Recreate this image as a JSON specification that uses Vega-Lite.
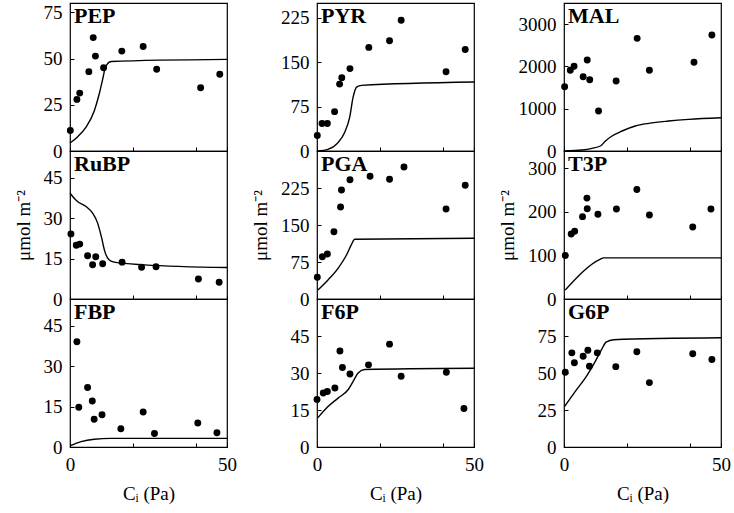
{
"$schema": "https://vega.github.io/schema/vega-lite/v6.json",
"padding": {"left": 13, "top": 2, "right": 5, "bottom": 5},
"config": {
  "font": "Liberation Serif",
  "view": {"stroke": "black", "strokeWidth": 1.2},
  "axis": {"labelFont": "Liberation Serif", "labelFontSize": 19, "labelColor": "black", "titleFont": "Liberation Serif", "titleFontSize": 19, "titleFontWeight": "normal", "titleColor": "black", "domain": false, "grid": false, "tickColor": "black", "tickSize": -4, "labelPadding": 12, "labelFlush": false, "titlePadding": 10},
  "line": {"color": "black", "strokeWidth": 1.4, "interpolate": "monotone"},
  "circle": {"color": "black", "opacity": 1, "size": 48},
  "text": {"font": "Liberation Serif", "fontWeight": "bold", "fontSize": 22, "align": "left", "baseline": "top", "dx": 4, "dy": 3, "color": "black"}
},
"datasets": {
  "obs": [
    {"m":"PEP","x":0.1,"y":11.1},{"m":"PEP","x":2.2,"y":27.9},{"m":"PEP","x":3.1,"y":31.3},{"m":"PEP","x":6.0,"y":42.9},{"m":"PEP","x":7.4,"y":61.3},{"m":"PEP","x":8.1,"y":51.3},{"m":"PEP","x":10.7,"y":45.0},{"m":"PEP","x":16.5,"y":54.0},{"m":"PEP","x":23.3,"y":56.5},{"m":"PEP","x":27.6,"y":44.2},{"m":"PEP","x":41.6,"y":34.2},{"m":"PEP","x":47.7,"y":41.5},
    {"m":"PYR","x":0.1,"y":26.1},{"m":"PYR","x":1.6,"y":46.6},{"m":"PYR","x":3.3,"y":46.6},{"m":"PYR","x":5.6,"y":66.5},{"m":"PYR","x":7.2,"y":113},{"m":"PYR","x":7.9,"y":123.9},{"m":"PYR","x":10.5,"y":139.2},{"m":"PYR","x":16.5,"y":175},{"m":"PYR","x":23.1,"y":186.3},{"m":"PYR","x":26.8,"y":221},{"m":"PYR","x":41.1,"y":134},{"m":"PYR","x":47.2,"y":171.6},
    {"m":"MAL","x":0.2,"y":1520},{"m":"MAL","x":2.0,"y":1908},{"m":"MAL","x":3.2,"y":2005},{"m":"MAL","x":6.1,"y":1757},{"m":"MAL","x":7.4,"y":2151},{"m":"MAL","x":8.2,"y":1686},{"m":"MAL","x":11.0,"y":946},{"m":"MAL","x":16.6,"y":1655},{"m":"MAL","x":23.3,"y":2664},{"m":"MAL","x":27.2,"y":1908},{"m":"MAL","x":41.4,"y":2097},{"m":"MAL","x":47.1,"y":2742},
    {"m":"RuBP","x":0.3,"y":24.2},{"m":"RuBP","x":2.0,"y":20.0},{"m":"RuBP","x":3.1,"y":20.4},{"m":"RuBP","x":5.6,"y":16.1},{"m":"RuBP","x":7.2,"y":12.7},{"m":"RuBP","x":8.2,"y":15.7},{"m":"RuBP","x":10.4,"y":13.1},{"m":"RuBP","x":16.6,"y":13.7},{"m":"RuBP","x":22.8,"y":11.8},{"m":"RuBP","x":27.4,"y":12.0},{"m":"RuBP","x":40.9,"y":7.4},{"m":"RuBP","x":47.5,"y":6.2},
    {"m":"PGA","x":0.1,"y":44},{"m":"PGA","x":1.7,"y":85.8},{"m":"PGA","x":3.3,"y":91.2},{"m":"PGA","x":5.4,"y":136.4},{"m":"PGA","x":7.5,"y":186.5},{"m":"PGA","x":7.8,"y":221},{"m":"PGA","x":10.5,"y":241.9},{"m":"PGA","x":16.9,"y":248.7},{"m":"PGA","x":23.1,"y":242.6},{"m":"PGA","x":27.7,"y":267.6},{"m":"PGA","x":41.1,"y":182.4},{"m":"PGA","x":47.2,"y":230.5},
    {"m":"T3P","x":0.4,"y":100},{"m":"T3P","x":2.3,"y":149.4},{"m":"T3P","x":3.4,"y":155.6},{"m":"T3P","x":5.9,"y":189.2},{"m":"T3P","x":7.4,"y":207.5},{"m":"T3P","x":7.3,"y":231.8},{"m":"T3P","x":10.8,"y":194.5},{"m":"T3P","x":16.7,"y":206.6},{"m":"T3P","x":23.2,"y":251.7},{"m":"T3P","x":27.2,"y":192.9},{"m":"T3P","x":41.0,"y":165.5},{"m":"T3P","x":46.8,"y":206.6},
    {"m":"FBP","x":2.2,"y":39.1},{"m":"FBP","x":2.8,"y":14.8},{"m":"FBP","x":5.6,"y":22.1},{"m":"FBP","x":7.1,"y":17.1},{"m":"FBP","x":7.7,"y":10.3},{"m":"FBP","x":10.2,"y":12.0},{"m":"FBP","x":16.2,"y":6.8},{"m":"FBP","x":23.3,"y":13.0},{"m":"FBP","x":26.9,"y":5.0},{"m":"FBP","x":40.7,"y":8.9},{"m":"FBP","x":46.8,"y":5.3},
    {"m":"F6P","x":0.0,"y":19.3},{"m":"F6P","x":2.0,"y":21.9},{"m":"F6P","x":3.3,"y":22.5},{"m":"F6P","x":5.7,"y":23.9},{"m":"F6P","x":7.3,"y":38.9},{"m":"F6P","x":8.1,"y":32.2},{"m":"F6P","x":10.5,"y":29.6},{"m":"F6P","x":16.4,"y":33.3},{"m":"F6P","x":23.1,"y":41.7},{"m":"F6P","x":26.8,"y":28.7},{"m":"F6P","x":41.2,"y":30.3},{"m":"F6P","x":46.8,"y":15.6},
    {"m":"G6P","x":0.4,"y":50.5},{"m":"G6P","x":2.5,"y":63.6},{"m":"G6P","x":3.3,"y":56.9},{"m":"G6P","x":6.1,"y":61.3},{"m":"G6P","x":7.6,"y":65.4},{"m":"G6P","x":8.1,"y":54.6},{"m":"G6P","x":10.6,"y":63.6},{"m":"G6P","x":16.5,"y":54.3},{"m":"G6P","x":23.2,"y":64.3},{"m":"G6P","x":27.2,"y":43.5},{"m":"G6P","x":41.0,"y":63.0},{"m":"G6P","x":47.1,"y":59.1}
  ],
  "model": [
    {"m":"PEP","x":0,"y":4.3},{"m":"PEP","x":2.4,"y":7.6},{"m":"PEP","x":5.1,"y":12.9},{"m":"PEP","x":7.75,"y":21.8},{"m":"PEP","x":9.3,"y":30.8},{"m":"PEP","x":10.4,"y":38.8},{"m":"PEP","x":11.1,"y":44.1},{"m":"PEP","x":12.0,"y":47.3},{"m":"PEP","x":13.1,"y":48.4},{"m":"PEP","x":50,"y":49.5},
    {"m":"PYR","x":0.3,"y":0},{"m":"PYR","x":3.5,"y":2.8},{"m":"PYR","x":6.7,"y":14.2},{"m":"PYR","x":8.8,"y":31.2},{"m":"PYR","x":10.4,"y":56.8},{"m":"PYR","x":11.5,"y":90.9},{"m":"PYR","x":12.6,"y":108},{"m":"PYR","x":14.2,"y":110.8},{"m":"PYR","x":50,"y":116.5},
    {"m":"MAL","x":0.2,"y":0},{"m":"MAL","x":5.7,"y":24},{"m":"MAL","x":8.9,"y":63},{"m":"MAL","x":11.6,"y":118},{"m":"MAL","x":13.2,"y":236},{"m":"MAL","x":15.3,"y":355},{"m":"MAL","x":18.5,"y":473},{"m":"MAL","x":22.7,"y":591},{"m":"MAL","x":27.0,"y":654},{"m":"MAL","x":33.3,"y":709},{"m":"MAL","x":39.7,"y":749},{"m":"MAL","x":50,"y":788},
    {"m":"RuBP","x":0,"y":39.3},{"m":"RuBP","x":2.4,"y":36.2},{"m":"RuBP","x":5.1,"y":34.4},{"m":"RuBP","x":7.2,"y":31.9},{"m":"RuBP","x":8.8,"y":28.2},{"m":"RuBP","x":10.1,"y":22.6},{"m":"RuBP","x":11.1,"y":17.6},{"m":"RuBP","x":12.5,"y":14.5},{"m":"RuBP","x":14.1,"y":13.7},{"m":"RuBP","x":23.7,"y":12.7},{"m":"RuBP","x":50,"y":11.7},
    {"m":"PGA","x":0.3,"y":18.2},{"m":"PGA","x":3.5,"y":38.5},{"m":"PGA","x":6.7,"y":62.2},{"m":"PGA","x":9.4,"y":89.2},{"m":"PGA","x":11.0,"y":110.9},{"m":"PGA","x":12.0,"y":121},{"m":"PGA","x":50,"y":123},
    {"m":"T3P","x":0.4,"y":20.6},{"m":"T3P","x":11.6,"y":91.5},{"m":"T3P","x":12.6,"y":94.5},{"m":"T3P","x":50,"y":94.5},
    {"m":"FBP","x":0.1,"y":0.5},{"m":"FBP","x":3.5,"y":2.0},{"m":"FBP","x":7.75,"y":2.9},{"m":"FBP","x":13.1,"y":3.2},{"m":"FBP","x":50,"y":3.2},
    {"m":"F6P","x":0.3,"y":11.9},{"m":"F6P","x":3.5,"y":16.4},{"m":"F6P","x":6.7,"y":19.8},{"m":"F6P","x":9.9,"y":23.2},{"m":"F6P","x":11.5,"y":26.6},{"m":"F6P","x":13.1,"y":30.0},{"m":"F6P","x":15.2,"y":31.4},{"m":"F6P","x":50,"y":31.9},
    {"m":"G6P","x":0.2,"y":27.4},{"m":"G6P","x":3.6,"y":37.6},{"m":"G6P","x":6.8,"y":46.7},{"m":"G6P","x":9.7,"y":56.9},{"m":"G6P","x":12.0,"y":65.9},{"m":"G6P","x":13.4,"y":70.9},{"m":"G6P","x":15.8,"y":72.5},{"m":"G6P","x":50,"y":73.8}
  ]
},
"spacing": 12,
"hconcat": [
  {"spacing": 0, "bounds": "flush", "vconcat": [
    {"width": 157, "height": 148, "layer": [
      {"data": {"name": "model"}, "transform": [{"filter": "datum.m === 'PEP'"}], "mark": "line",
       "encoding": {"x": {"field": "x", "type": "quantitative", "scale": {"domain": [0, 50], "nice": false}, "axis": {"values": [0, 20, 40, 50], "labels": false, "title": null}},
                    "y": {"field": "y", "type": "quantitative", "scale": {"domain": [0, 80], "nice": false}, "axis": {"values": [0, 25, 50, 75], "title": null}}}},
      {"data": {"name": "obs"}, "transform": [{"filter": "datum.m === 'PEP'"}], "mark": "circle",
       "encoding": {"x": {"field": "x", "type": "quantitative"}, "y": {"field": "y", "type": "quantitative"}}},
      {"data": {"values": [{"label": "PEP"}]}, "mark": "text", "encoding": {"x": {"datum": 0}, "y": {"datum": 80}, "text": {"field": "label"}}}
    ]},
    {"width": 157, "height": 148, "layer": [
      {"data": {"name": "model"}, "transform": [{"filter": "datum.m === 'RuBP'"}], "mark": "line",
       "encoding": {"x": {"field": "x", "type": "quantitative", "scale": {"domain": [0, 50], "nice": false}, "axis": {"values": [0, 20, 40, 50], "labels": false, "title": null}},
                    "y": {"field": "y", "type": "quantitative", "scale": {"domain": [0, 55], "nice": false}, "axis": {"values": [0, 15, 30, 45], "title": "μmol m⁻²"}}}},
      {"data": {"name": "obs"}, "transform": [{"filter": "datum.m === 'RuBP'"}], "mark": "circle",
       "encoding": {"x": {"field": "x", "type": "quantitative"}, "y": {"field": "y", "type": "quantitative"}}},
      {"data": {"values": [{"label": "RuBP"}]}, "mark": "text", "encoding": {"x": {"datum": 0}, "y": {"datum": 55}, "text": {"field": "label"}}}
    ]},
    {"width": 157, "height": 148, "layer": [
      {"data": {"name": "model"}, "transform": [{"filter": "datum.m === 'FBP'"}], "mark": "line",
       "encoding": {"x": {"field": "x", "type": "quantitative", "scale": {"domain": [0, 50], "nice": false}, "axis": {"values": [0, 20, 40, 50], "labelExpr": "datum.value == 0 || datum.value == 50 ? datum.label : ''", "title": "Cᵢ (Pa)"}},
                    "y": {"field": "y", "type": "quantitative", "scale": {"domain": [0, 55], "nice": false}, "axis": {"values": [0, 15, 30, 45], "title": null}}}},
      {"data": {"name": "obs"}, "transform": [{"filter": "datum.m === 'FBP'"}], "mark": "circle",
       "encoding": {"x": {"field": "x", "type": "quantitative"}, "y": {"field": "y", "type": "quantitative"}}},
      {"data": {"values": [{"label": "FBP"}]}, "mark": "text", "encoding": {"x": {"datum": 0}, "y": {"datum": 55}, "text": {"field": "label"}}}
    ]}
  ]},
  {"spacing": 0, "bounds": "flush", "vconcat": [
    {"width": 157, "height": 148, "layer": [
      {"data": {"name": "model"}, "transform": [{"filter": "datum.m === 'PYR'"}], "mark": "line",
       "encoding": {"x": {"field": "x", "type": "quantitative", "scale": {"domain": [0, 50], "nice": false}, "axis": {"values": [0, 20, 40, 50], "labels": false, "title": null}},
                    "y": {"field": "y", "type": "quantitative", "scale": {"domain": [0, 250], "nice": false}, "axis": {"values": [0, 75, 150, 225], "title": null}}}},
      {"data": {"name": "obs"}, "transform": [{"filter": "datum.m === 'PYR'"}], "mark": "circle",
       "encoding": {"x": {"field": "x", "type": "quantitative"}, "y": {"field": "y", "type": "quantitative"}}},
      {"data": {"values": [{"label": "PYR"}]}, "mark": "text", "encoding": {"x": {"datum": 0}, "y": {"datum": 250}, "text": {"field": "label"}}}
    ]},
    {"width": 157, "height": 148, "layer": [
      {"data": {"name": "model"}, "transform": [{"filter": "datum.m === 'PGA'"}], "mark": "line",
       "encoding": {"x": {"field": "x", "type": "quantitative", "scale": {"domain": [0, 50], "nice": false}, "axis": {"values": [0, 20, 40, 50], "labels": false, "title": null}},
                    "y": {"field": "y", "type": "quantitative", "scale": {"domain": [0, 300], "nice": false}, "axis": {"values": [0, 75, 150, 225], "title": "μmol m⁻²"}}}},
      {"data": {"name": "obs"}, "transform": [{"filter": "datum.m === 'PGA'"}], "mark": "circle",
       "encoding": {"x": {"field": "x", "type": "quantitative"}, "y": {"field": "y", "type": "quantitative"}}},
      {"data": {"values": [{"label": "PGA"}]}, "mark": "text", "encoding": {"x": {"datum": 0}, "y": {"datum": 300}, "text": {"field": "label"}}}
    ]},
    {"width": 157, "height": 148, "layer": [
      {"data": {"name": "model"}, "transform": [{"filter": "datum.m === 'F6P'"}], "mark": "line",
       "encoding": {"x": {"field": "x", "type": "quantitative", "scale": {"domain": [0, 50], "nice": false}, "axis": {"values": [0, 20, 40, 50], "labelExpr": "datum.value == 0 || datum.value == 50 ? datum.label : ''", "title": "Cᵢ (Pa)"}},
                    "y": {"field": "y", "type": "quantitative", "scale": {"domain": [0, 60], "nice": false}, "axis": {"values": [0, 15, 30, 45], "title": null}}}},
      {"data": {"name": "obs"}, "transform": [{"filter": "datum.m === 'F6P'"}], "mark": "circle",
       "encoding": {"x": {"field": "x", "type": "quantitative"}, "y": {"field": "y", "type": "quantitative"}}},
      {"data": {"values": [{"label": "F6P"}]}, "mark": "text", "encoding": {"x": {"datum": 0}, "y": {"datum": 60}, "text": {"field": "label"}}}
    ]}
  ]},
  {"spacing": 0, "bounds": "flush", "vconcat": [
    {"width": 157, "height": 148, "layer": [
      {"data": {"name": "model"}, "transform": [{"filter": "datum.m === 'MAL'"}], "mark": "line",
       "encoding": {"x": {"field": "x", "type": "quantitative", "scale": {"domain": [0, 50], "nice": false}, "axis": {"values": [0, 20, 40, 50], "labels": false, "title": null}},
                    "y": {"field": "y", "type": "quantitative", "scale": {"domain": [0, 3500], "nice": false}, "axis": {"values": [0, 1000, 2000, 3000], "format": "d", "title": null}}}},
      {"data": {"name": "obs"}, "transform": [{"filter": "datum.m === 'MAL'"}], "mark": "circle",
       "encoding": {"x": {"field": "x", "type": "quantitative"}, "y": {"field": "y", "type": "quantitative"}}},
      {"data": {"values": [{"label": "MAL"}]}, "mark": "text", "encoding": {"x": {"datum": 0}, "y": {"datum": 3500}, "text": {"field": "label"}}}
    ]},
    {"width": 157, "height": 148, "layer": [
      {"data": {"name": "model"}, "transform": [{"filter": "datum.m === 'T3P'"}], "mark": "line",
       "encoding": {"x": {"field": "x", "type": "quantitative", "scale": {"domain": [0, 50], "nice": false}, "axis": {"values": [0, 20, 40, 50], "labels": false, "title": null}},
                    "y": {"field": "y", "type": "quantitative", "scale": {"domain": [0, 340], "nice": false}, "axis": {"values": [0, 100, 200, 300], "title": "μmol m⁻²"}}}},
      {"data": {"name": "obs"}, "transform": [{"filter": "datum.m === 'T3P'"}], "mark": "circle",
       "encoding": {"x": {"field": "x", "type": "quantitative"}, "y": {"field": "y", "type": "quantitative"}}},
      {"data": {"values": [{"label": "T3P"}]}, "mark": "text", "encoding": {"x": {"datum": 0}, "y": {"datum": 340}, "text": {"field": "label"}}}
    ]},
    {"width": 157, "height": 148, "layer": [
      {"data": {"name": "model"}, "transform": [{"filter": "datum.m === 'G6P'"}], "mark": "line",
       "encoding": {"x": {"field": "x", "type": "quantitative", "scale": {"domain": [0, 50], "nice": false}, "axis": {"values": [0, 20, 40, 50], "labelExpr": "datum.value == 0 || datum.value == 50 ? datum.label : ''", "title": "Cᵢ (Pa)"}},
                    "y": {"field": "y", "type": "quantitative", "scale": {"domain": [0, 100], "nice": false}, "axis": {"values": [0, 25, 50, 75], "title": null}}}},
      {"data": {"name": "obs"}, "transform": [{"filter": "datum.m === 'G6P'"}], "mark": "circle",
       "encoding": {"x": {"field": "x", "type": "quantitative"}, "y": {"field": "y", "type": "quantitative"}}},
      {"data": {"values": [{"label": "G6P"}]}, "mark": "text", "encoding": {"x": {"datum": 0}, "y": {"datum": 100}, "text": {"field": "label"}}}
    ]}
  ]}
]
}
